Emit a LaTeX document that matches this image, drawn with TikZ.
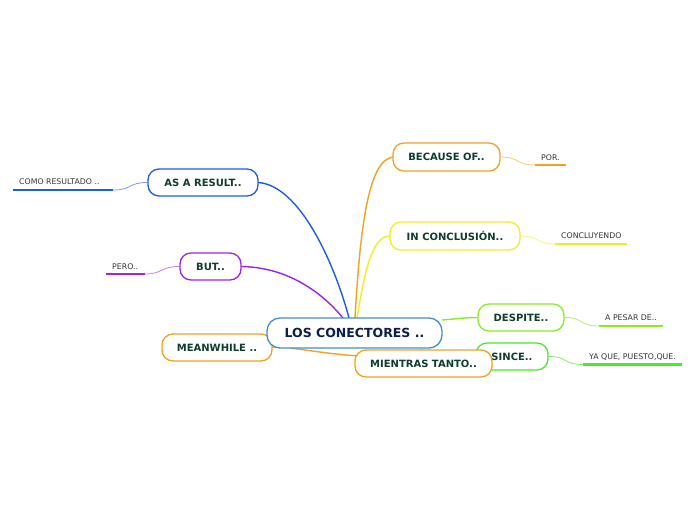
\documentclass[tikz,border=0pt]{standalone}
\usepackage{fontspec}
\setmainfont{DejaVu Sans}
\begin{document}
\begin{tikzpicture}[x=1pt,y=-1pt,
  txt/.style={text=tgreen,font=\bfseries\fontsize{10}{12}\selectfont},
  topic/.style={draw,fill=white,rounded corners=11pt,line width=1.3pt,inner sep=0pt,txt},
  central/.style={topic,draw=cblue,minimum width=175pt,minimum height=30pt,rounded corners=13pt,text=navy,font=\bfseries\fontsize{12.5}{14}\selectfont},
  leaf/.style={text=black!80,font=\fontsize{7.8}{9}\selectfont,inner sep=0pt,anchor=base west},
  conn/.style={line width=1.4pt},
  thin/.style={line width=0.8pt},
  uline/.style={line width=2.2pt}]
\definecolor{tgreen}{HTML}{0F3D2E}
\definecolor{navy}{HTML}{0A1F4A}
\definecolor{cblue}{HTML}{4090D0}
\definecolor{dblue}{HTML}{1A5CF0}
\definecolor{purp}{HTML}{A020F0}
\definecolor{orng}{HTML}{F5A020}
\definecolor{yell}{HTML}{F0F020}
\definecolor{lgrn}{HTML}{88EE22}
\definecolor{grn}{HTML}{44EE22}
\useasboundingbox (0,0) rectangle (696,520);

% coordinates for connector starts on central
\coordinate (cb) at (349,318);
\coordinate (cp) at (343,318);
\coordinate (co) at (355,318);
\coordinate (cy) at (357,318);
\coordinate (cg) at (442,320);
\coordinate (cs) at (420,350);
\coordinate (cm) at (290,348);
\coordinate (cw) at (300,340);

\path (446.5,157) coordinate (pbec);
\path (455,236) coordinate (pinc);
\path (521,317.5) coordinate (pdes);
\path (512,356.5) coordinate (psin);
\path (423.5,363.5) coordinate (pmie);
\path (217,347.5) coordinate (pmea);
\path (210.5,266.5) coordinate (pbut);
\path (203,182.5) coordinate (pasr);

% main connectors
\draw[conn,dblue] (cb) .. controls (335,265) and (300,185) .. (258,182.5);
\draw[conn,purp] (cp) .. controls (320,290) and (285,267) .. (241,266.5);
\draw[conn,orng] (co) .. controls (360,230) and (368,160) .. (393,157);
\draw[conn,yell] (cy) .. controls (365,270) and (372,236) .. (390,236);
\draw[conn,lgrn] (cg) .. controls (455,319) and (465,317.5) .. (478,317.5);
\draw[conn,grn] (cs) .. controls (450,356) and (462,356.5) .. (476,356.5);
\draw[conn,orng] (cm) .. controls (320,352) and (340,355) .. (360,356);
\draw[conn,orng] (cw) -- (272,347.5);

% topic nodes
\node[topic,draw=orng,minimum width=107pt,minimum height=28pt] (bec) at (pbec) {BECAUSE OF..};
\node[topic,draw=yell,minimum width=130pt,minimum height=28pt] (inc) at (pinc) {IN CONCLUSIÓN..};
\node[topic,draw=lgrn,minimum width=86pt,minimum height=27pt] (des) at (pdes) {DESPITE..};
\node[topic,draw=grn,minimum width=72pt,minimum height=27pt] (sin) at (psin) {SINCE..};
\node[topic,draw=orng,minimum width=110pt,minimum height=27pt] (mea) at (pmea) {MEANWHILE ..};
\node[topic,draw=purp,minimum width=61pt,minimum height=27pt] (but) at (pbut) {BUT..};
\node[topic,draw=dblue,minimum width=110pt,minimum height=27pt] (asr) at (pasr) {AS A RESULT..};
\node[central] (c) at (354.5,333) {LOS CONECTORES ..};
\node[topic,draw=orng,minimum width=137pt,minimum height=27pt] (mie) at (pmie) {MIENTRAS TANTO..};

% leaves
% COMO RESULTADO
\coordinate (a1) at (13,190); \coordinate (a2) at (113,190);
\draw[uline,dblue] (a1) -- (a2);
\node[leaf] (la) at (19,184.5) {COMO RESULTADO ..};
\draw[thin,dblue!60] (a2) .. controls (132,190) and (128,182.5) .. (asr.west);
% PERO
\coordinate (b1) at (106,274); \coordinate (b2) at (145,274);
\draw[uline,purp] (b1) -- (b2);
\node[leaf] (lb) at (112,269) {PERO..};
\draw[thin,purp!60] (b2) .. controls (163,274) and (160,266.5) .. (but.west);
% POR
\coordinate (p1) at (535,165); \coordinate (p2) at (566,165);
\draw[uline,orng] (p1) -- (p2);
\node[leaf] (lp) at (541,160) {POR.};
\draw[thin,orng!60] (bec.east) .. controls (520,157) and (515,165) .. (p1);
% CONCLUYENDO
\coordinate (q1) at (555,244); \coordinate (q2) at (627,244);
\draw[uline,yell] (q1) -- (q2);
\node[leaf] (lq) at (561,238.5) {CONCLUYENDO};
\draw[thin,yell!70] (inc.east) .. controls (540,236) and (535,244) .. (q1);
% A PESAR DE
\coordinate (r1) at (599,326); \coordinate (r2) at (663,326);
\draw[uline,lgrn] (r1) -- (r2);
\node[leaf] (lr) at (605,320.5) {A PESAR DE..};
\draw[thin,lgrn!70] (des.east) .. controls (584,317.5) and (579,326) .. (r1);
% YA QUE
\coordinate (s1) at (583,364.5); \coordinate (s2) at (682,364.5);
\draw[uline,grn] (s1) -- (s2);
\node[leaf] (ls) at (589,359) {YA QUE, PUESTO,QUE.};
\draw[thin,grn!70] (sin.east) .. controls (568,356.5) and (563,364.5) .. (s1);
\end{tikzpicture}
\end{document}
